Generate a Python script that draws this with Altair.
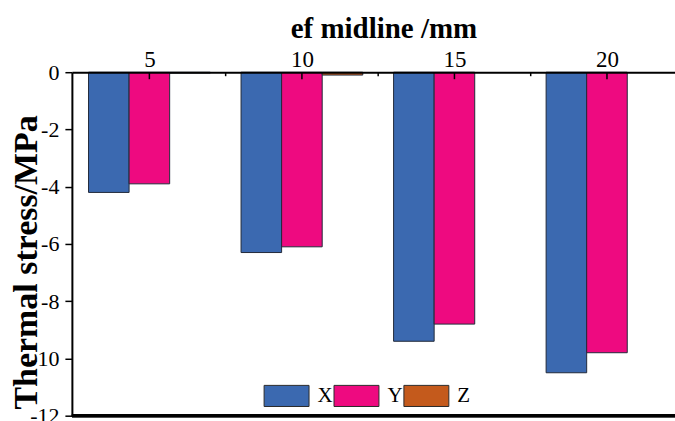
import altair as alt
import pandas as pd

# Thermal stress along the ef midline, three stress components
positions_mm = [5, 10, 15, 20]
series = ["X", "Y", "Z"]
stress_x = [-4.2, -6.3, -9.4, -10.5]
stress_y = [-3.9, -6.1, -8.8, -9.8]
stress_z = [-0.03, -0.1, 0.0, 0.0]
colors = ["#3b69b0", "#ee0a80", "#c45a1c"]

x_major_ticks = [5, 10, 15, 20]
x_minor_ticks = [7.5, 12.5, 17.5]
y_ticks = [0, -2, -4, -6, -8, -10, -12]
y_minor_ticks = [-1, -3, -5, -7, -9, -11]

BAR_W = 1.33  # width of one bar, in mm of the x scale
FONT = "Liberation Serif"

rows = []
for k, (name, vals) in enumerate(zip(series, [stress_x, stress_y, stress_z])):
    for mm, v in zip(positions_mm, vals):
        centre = mm + (k - 1) * BAR_W
        rows.append({"mm": mm, "series": name, "stress": v,
                     "left": centre - BAR_W / 2, "right": centre + BAR_W / 2})
bars_df = pd.DataFrame(rows)

major_df = pd.DataFrame({"tick": x_major_ticks})
minor_df = pd.DataFrame({"tick": x_minor_ticks})

x_scale = alt.Scale(domain=[2.46, 22.23], nice=False, zero=False)
y_scale = alt.Scale(domain=[min(y_ticks), max(y_ticks)], nice=False)

bars = alt.Chart(bars_df).transform_filter("datum.stress != 0").mark_bar(
    stroke="#222a3a", strokeWidth=1
).encode(
    x=alt.X("left:Q", scale=x_scale,
            axis=alt.Axis(orient="top", values=x_major_ticks, ticks=False, grid=False,
                          domainColor="black", domainWidth=2,
                          labelFont=FONT, labelFontSize=23, labelColor="black",
                          labelPadding=6, labelBaseline="alphabetic", labelAngle=0,
                          title="ef midline /mm", titleFont=FONT, titleFontSize=29,
                          titleFontWeight="bold", titleColor="black",
                          titleBaseline="alphabetic", titleAlign="center",
                          titleX=312, titleY=-35, zindex=1)),
    x2="right:Q",
    y=alt.Y("stress:Q", scale=y_scale,
            axis=alt.Axis(values=y_ticks + y_minor_ticks, grid=False,
                          domainColor="black", domainWidth=2,
                          tickColor="black", tickWidth=1.5,
                          tickSize={"condition": {"test": "datum.value % 2 != 0", "value": 4},
                                    "value": 7},
                          labelExpr="datum.value % 2 != 0 ? '' : (datum.value == 0 ? '0' : '-' + abs(datum.value))",
                          labelFont=FONT, labelFontSize=22, labelColor="black",
                          labelPadding=6,
                          title="Thermal stress/MPa", titleFont=FONT, titleFontSize=34,
                          titleFontWeight="bold", titleColor="black", titleAngle=270,
                          titleBaseline="alphabetic", titleAlign="center",
                          titleX=-35, titleY=190, zindex=1)),
    y2=alt.datum(0),
    color=alt.Color("series:N", scale=alt.Scale(domain=series, range=colors),
                    legend=alt.Legend(orient="none", legendX=192, legendY=301,
                                      direction="horizontal", title=None,
                                      symbolType="M-1,-0.47H1V0.47H-1Z", symbolSize=2025,
                                      symbolStrokeColor="#2a2a2a", symbolStrokeWidth=1,
                                      symbolOpacity=1, labelFont=FONT, labelFontSize=21,
                                      labelColor="black", labelOffset=8,
                                      columnPadding=-2, padding=0)),
)

# inward ticks on the top axis
major_ticks = alt.Chart(major_df).mark_rule(color="black", strokeWidth=1.5).encode(
    x=alt.X("tick:Q", scale=x_scale),
    y=alt.value(0), y2=alt.value(7),
)
minor_ticks = alt.Chart(minor_df).mark_rule(color="black", strokeWidth=1.5).encode(
    x=alt.X("tick:Q", scale=x_scale),
    y=alt.value(0), y2=alt.value(4),
)

# bottom frame line at the lower end of the stress axis
bottom_line = alt.Chart(major_df).mark_rule(color="black", strokeWidth=3).encode(
    y=alt.YDatum(min(y_ticks), type="quantitative", scale=y_scale),
)

chart = alt.layer(bars, major_ticks, minor_ticks, bottom_line).properties(
    width=604, height=344,
    autosize=alt.AutoSizeParams(type="none"),
    padding={"left": 72, "top": 72, "right": 0, "bottom": 5},
    background="white",
).configure_view(stroke=None)

chart.save("out.html", embed_options={"renderer": "svg", "actions": False})
